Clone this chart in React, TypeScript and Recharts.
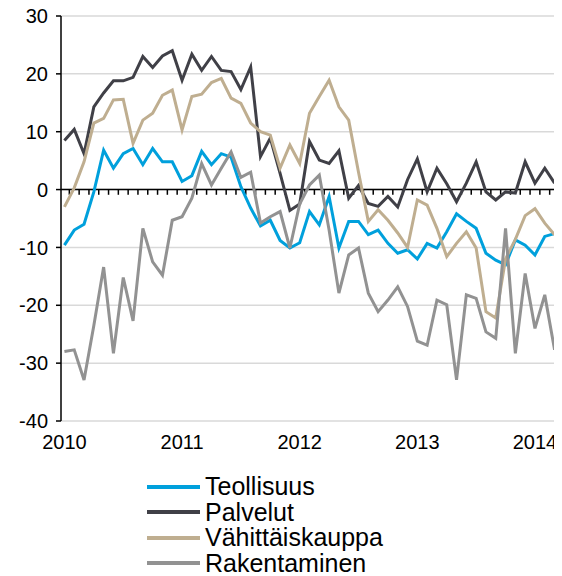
import React from 'react';
import { LineChart, Line, XAxis, YAxis, CartesianGrid, ReferenceLine, Legend } from 'recharts';

// monthly points, Jan 2010 - Mar 2014
const yearLabels = ['2010', '2011', '2012', '2013', '2014'];
const yearTicks = [0, 12, 24, 36, 48];
const yTicks = [-40, -30, -20, -10, 0, 10, 20, 30];

const teollisuus = [
    -9.6, -7.0, -6.0, -0.4, 6.8, 3.7, 6.2, 7.1, 4.3, 7.1, 4.8, 4.8,
    1.4, 2.4, 6.6, 4.3, 6.2, 5.6, 0.5, -3.2, -6.3, -5.3, -8.8, -10.1,
    -9.2, -3.8, -6.1, -1.2, -10.1, -5.5, -5.5, -7.8, -7.0, -9.3, -11.0, -10.4,
    -12.0, -9.3, -10.1, -7.3, -4.2, -5.5, -6.7, -11.0, -12.2, -13.0, -8.7, -9.6,
    -11.3, -8.1, -7.6,
];
const palvelut = [
    8.5, 10.4, 6.2, 14.3, 16.7, 18.8, 18.8, 19.4, 23.0, 21.1, 23.1, 24.0,
    18.9, 23.4, 20.6, 23.0, 20.6, 20.4, 17.3, 21.2, 5.7, 8.9, 2.8, -3.6,
    -2.5, 8.3, 5.1, 4.5, 6.7, -1.5, 0.7, -2.4, -2.9, -1.2, -3.0, 1.7,
    5.3, -0.4, 3.7, 1.0, -2.1, 1.1, 4.8, -0.4, -1.8, -0.4, -0.6, 4.8,
    1.1, 3.7, 1.1,
];
const vahittaiskauppa = [
    -3.0, 0.3, 4.8, 11.5, 12.3, 15.5, 15.6, 8.0, 12.0, 13.2, 16.3, 17.2,
    10.3, 16.1, 16.5, 18.5, 19.2, 15.8, 14.9, 11.5, 10.0, 9.4, 3.7, 7.7,
    4.5, 13.2, 16.1, 18.9, 14.3, 12.0, 3.0, -5.5, -3.5, -5.3, -7.5, -10.0,
    -1.8, -2.7, -6.7, -11.6, -9.3, -7.3, -10.1, -21.1, -22.2, -12.0, -8.6, -4.5,
    -3.3, -5.8, -7.8,
];
const rakentaminen = [
    -28.0, -27.7, -32.9, -23.5, -13.4, -28.3, -15.2, -22.7, -6.7, -12.5, -14.8, -5.3,
    -4.7, -1.5, 4.5, 0.8, 3.7, 6.5, 2.1, 3.0, -5.8, -4.7, -3.8, -10.1,
    -2.5, 0.8, 2.5, -7.0, -17.9, -11.3, -10.1, -17.9, -21.1, -19.1, -16.8, -20.2,
    -26.2, -26.9, -19.1, -19.9, -32.9, -18.2, -18.8, -24.6, -25.7, -6.7, -28.3, -14.5,
    -24.0, -18.2, -27.7,
];

const series = [
    { key: 'teollisuus', name: 'Teollisuus', color: '#00a0dc' },
    { key: 'palvelut', name: 'Palvelut', color: '#404047' },
    { key: 'vahittaiskauppa', name: 'Vähittäiskauppa', color: '#bfae90' },
    { key: 'rakentaminen', name: 'Rakentaminen', color: '#929292' },
];

const data = teollisuus.map((v, i) => ({
    i,
    teollisuus: v,
    palvelut: palvelut[i],
    vahittaiskauppa: vahittaiskauppa[i],
    rakentaminen: rakentaminen[i],
}));

// small tick marks between months on the zero line
const monthTicks = data.slice(1).map((d) => d.i - 0.5);

const FONT = 'Arial, "Liberation Sans", sans-serif';

const LegendBox = () => (
    <div style={{ fontFamily: FONT, fontSize: 25, lineHeight: '25.5px', color: '#000' }}>
        {series.map((s) => (
            <div key={s.key} style={{ display: 'flex', alignItems: 'center' }}>
                <span style={{ display: 'inline-block', width: 53, height: 4, background: s.color, marginRight: 5 }} />
                <span>{s.name}</span>
            </div>
        ))}
    </div>
);

const App: React.FC = () => {
    return (
        <div style={{ width: 554, height: 568 }}>
            <LineChart
                width={554}
                height={568}
                data={data}
                margin={{ top: 8, right: 4, left: 0, bottom: 125 }}
            >
                <CartesianGrid vertical={false} stroke="#d9d9d9" strokeWidth={1.5} />
                <XAxis
                    dataKey="i"
                    type="number"
                    domain={[-0.35, 50.35]}
                    ticks={yearTicks}
                    interval={0}
                    tickFormatter={(v) => yearLabels[yearTicks.indexOf(v)]}
                    axisLine={false}
                    tickLine={false}
                    tickSize={0}
                    tickMargin={14}
                    height={30}
                    tick={{ fill: '#000', fontSize: 20, fontFamily: FONT }}
                />
                <YAxis
                    domain={[-40, 30]}
                    ticks={yTicks}
                    interval={0}
                    width={53}
                    tickSize={5}
                    tickMargin={8}
                    axisLine={{ stroke: '#000', strokeWidth: 1.5 }}
                    tickLine={{ stroke: '#000', strokeWidth: 1.5 }}
                    tick={{ fill: '#000', fontSize: 20, fontFamily: FONT }}
                />
                <ReferenceLine y={0} stroke="#000" strokeWidth={1.5} />
                {monthTicks.map((x) => (
                    <ReferenceLine
                        key={x}
                        segment={[{ x, y: 0 }, { x, y: -0.9 }]}
                        stroke="#000"
                        strokeWidth={1.5}
                    />
                ))}
                {series.map((s) => (
                    <Line
                        key={s.key}
                        type="linear"
                        dataKey={s.key}
                        name={s.name}
                        stroke={s.color}
                        strokeWidth={3}
                        dot={false}
                        isAnimationActive={false}
                    />
                ))}
                <Legend
                    layout="vertical"
                    align="center"
                    verticalAlign="middle"
                    content={<LegendBox />}
                    wrapperStyle={{ top: 466, left: 139, width: 340 }}
                />
            </LineChart>
        </div>
    );
};

export default App;
